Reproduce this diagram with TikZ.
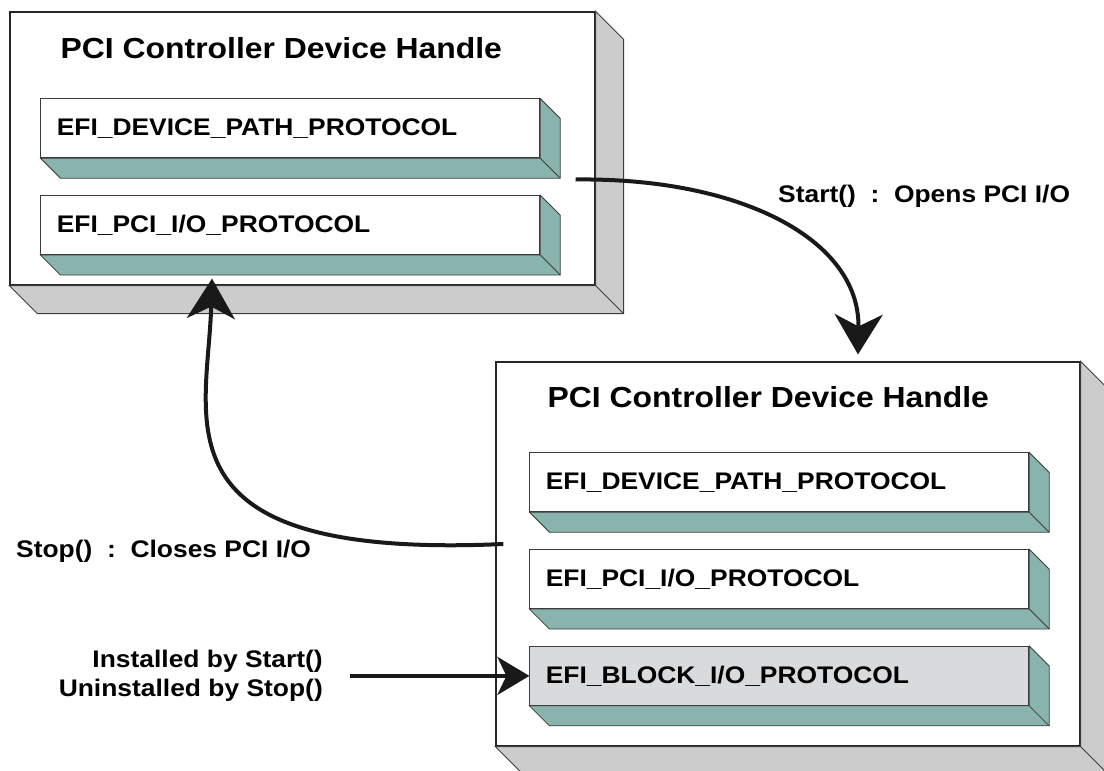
\documentclass[tikz,border=0pt]{standalone}
\usepackage{fontspec}
\setmainfont{Liberation Sans}[FakeStretch=1.1]
\usetikzlibrary{arrows.meta, positioning, calc}
\definecolor{slabteal}{RGB}{137,180,173}
\definecolor{slabgray}{RGB}{204,204,204}
\definecolor{newproto}{RGB}{217,218,220}
\definecolor{edgegray}{RGB}{60,60,60}
\tikzset{
    handle/.style={rectangle, draw=black!85, line width=1.2pt, fill=white, minimum width=585pt, minimum height=273pt, inner sep=0pt},
    proto/.style={rectangle, draw=edgegray, line width=0.8pt, fill=white, minimum width=499pt, minimum height=59pt, text width=467pt, inner xsep=16pt, align=left, font=\fontsize{24}{28}\selectfont\bfseries},
    title/.style={font=\fontsize{29}{34}\selectfont\bfseries, inner sep=0pt, anchor=base west},
    note/.style={font=\fontsize{24}{29}\selectfont\bfseries, inner sep=0pt},
    flow/.style={-{Stealth[length=40pt, width=48pt, inset=12pt]}, line width=4pt, black!90}
}
% oblique bottom and right faces of a node
\newcommand{\slab}[3]{%
    \filldraw[fill=#3, draw=edgegray, line width=0.8pt]
        (#1.south west) -- ($(#1.south west)+(#2,#2)$) -- ($(#1.south east)+(#2,#2)$)
        -- ($(#1.north east)+(#2,#2)$) -- (#1.north east) -- (#1.south east) -- cycle;
    \draw[edgegray, line width=0.8pt] (#1.south east) -- ++(#2,#2);
}

\begin{document}
\begin{tikzpicture}[x=1pt, y=-1pt]
    \useasboundingbox (0,0) rectangle (1104,771);

    % --- Handle before Start() ---
    \node (top) [handle] at (302.5,148.5) {};
    \slab{top}{28}{slabgray}
    \node (toptitle) [title] at ($(top.north west)+(51,47)$) {PCI Controller Device Handle};
    \node (topdev) [proto, below right=87pt and 31pt of top.north west] {EFI\_DEVICE\_PATH\_PROTOCOL};
    \slab{topdev}{20}{slabteal}
    \node (toppci) [proto, below=37pt of topdev] {EFI\_PCI\_I/O\_PROTOCOL};
    \slab{toppci}{20}{slabteal}

    % --- Handle after Start() ---
    \node (bot) [handle, minimum width=584pt, minimum height=384pt] at (788,554) {};
    \slab{bot}{28}{slabgray}
    \node (bottitle) [title] at ($(bot.north west)+(52,46)$) {PCI Controller Device Handle};
    \node (botdev) [proto, below right=91pt and 34pt of bot.north west] {EFI\_DEVICE\_PATH\_PROTOCOL};
    \slab{botdev}{20}{slabteal}
    \node (botpci) [proto, below=37pt of botdev] {EFI\_PCI\_I/O\_PROTOCOL};
    \slab{botpci}{20}{slabteal}
    \node (blockio) [proto, fill=newproto, below=37pt of botpci] {EFI\_BLOCK\_I/O\_PROTOCOL};
    \slab{blockio}{20}{slabteal}

    % --- Labels ---
    \node (opens) [note, anchor=base west] at (778,202) {Start()~~:~~Opens PCI I/O};
    \node (closes) [note, anchor=base west] at (16,557) {Stop()~~:~~Closes PCI I/O};
    \node (inst) [note, align=right, anchor=east] at (323,676) {Installed by Start()\\Uninstalled by Stop()};

    % --- Connectors ---
    \draw [flow] ($(top.east)+(-20,31)$) .. controls +(165,-2) and +(2,-115) .. ($(bot.north)+(70,-7)$);
    \draw [flow] ($(bot.west)+(8,-10)$) .. controls +(-354,16) and +(-4,142) .. ($(top.south)+(-90.5,-7)$);
    \draw [flow, -{Stealth[length=32pt, width=38pt, inset=9pt]}] (blockio.west -| inst.east) ++(27,0) -- (blockio.west);
\end{tikzpicture}
\end{document}
